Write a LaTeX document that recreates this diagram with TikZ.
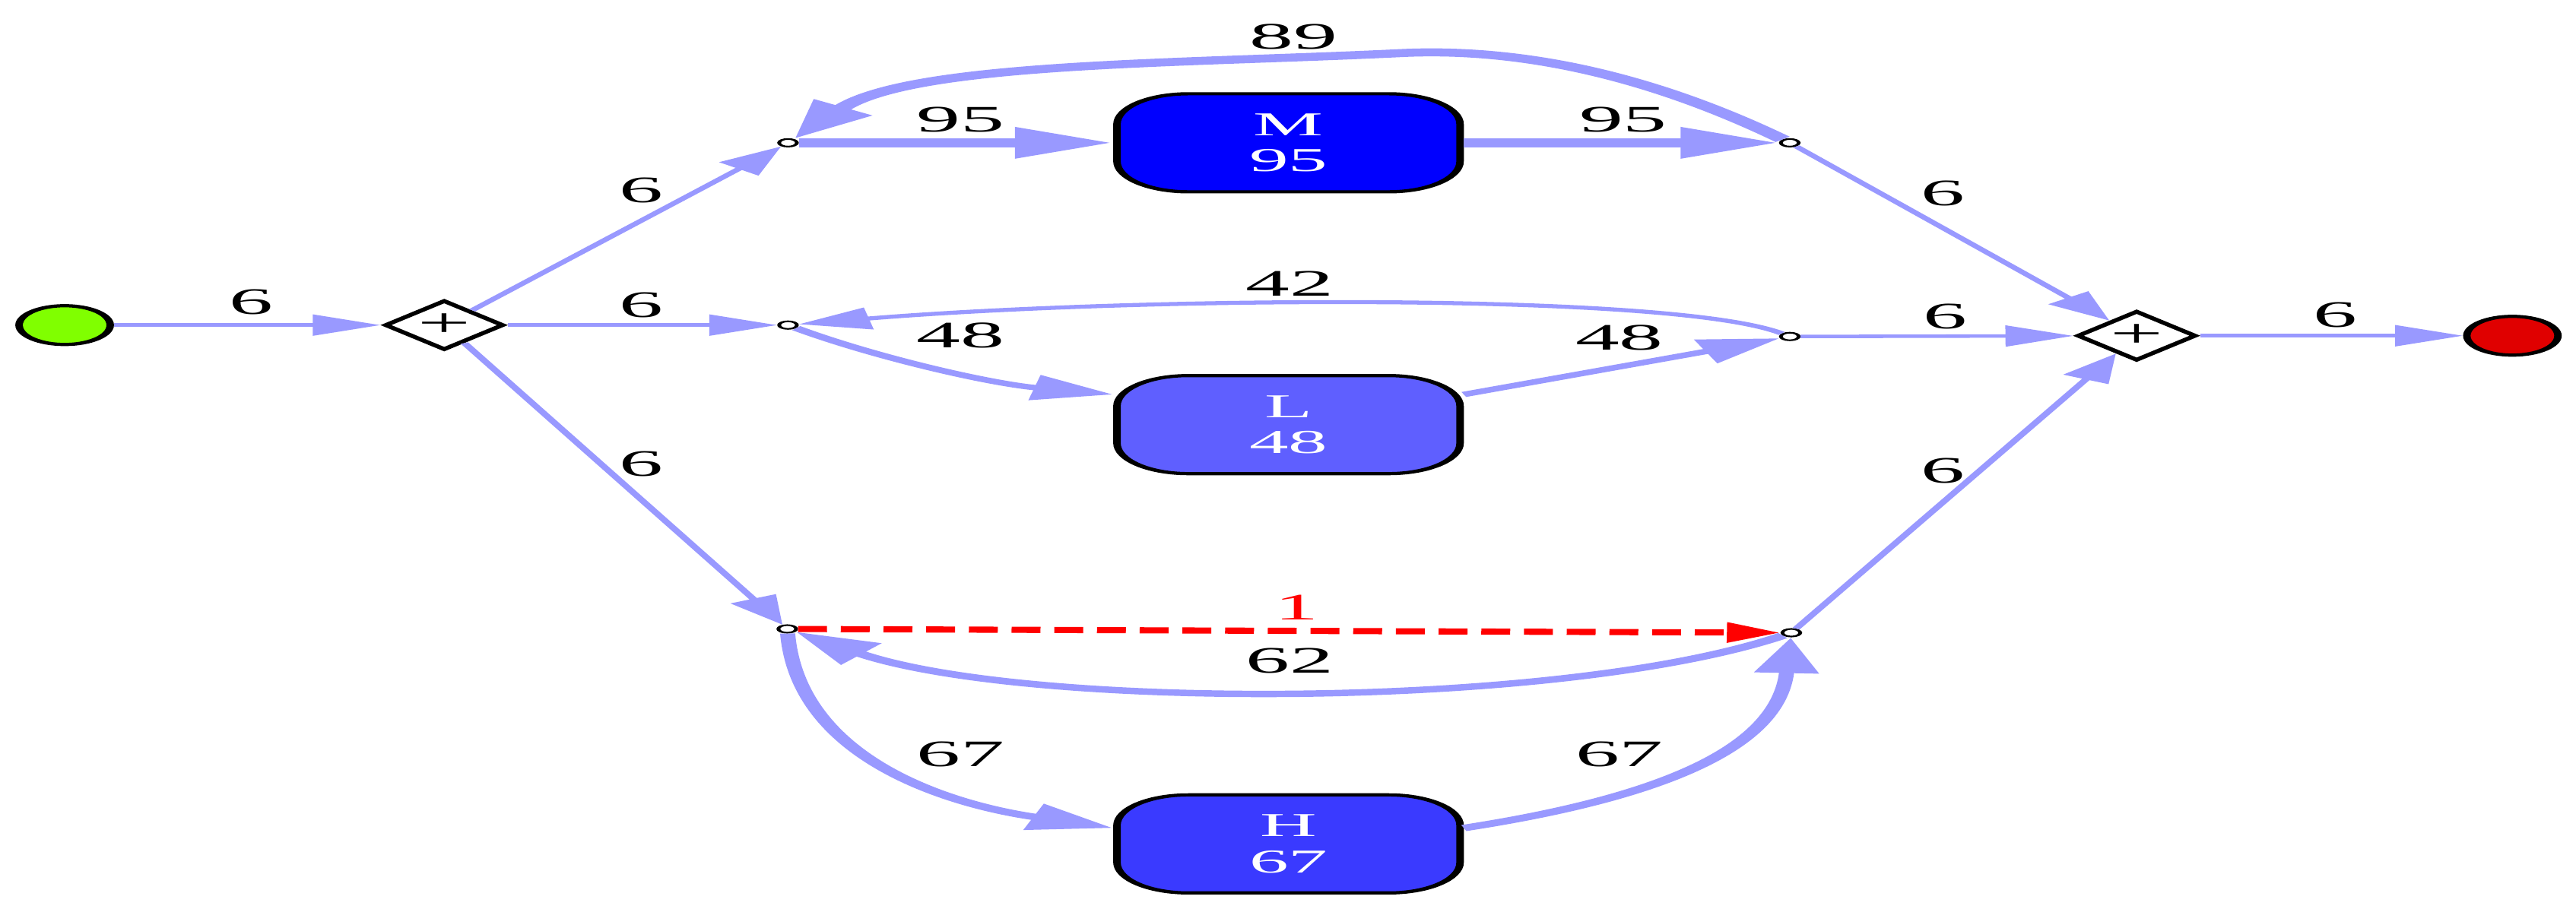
\documentclass[tikz,border=0pt]{standalone}
\usepackage{fontspec}
\setmainfont{Liberation Serif}
\usetikzlibrary{shapes.geometric,arrows.meta}
\definecolor{edgec}{RGB}{153,153,255}
\definecolor{mcol}{RGB}{0,0,255}
\definecolor{lcol}{RGB}{95,95,255}
\definecolor{hcol}{RGB}{58,58,255}
\definecolor{startc}{RGB}{128,255,0}
\definecolor{endc}{RGB}{224,0,0}
\definecolor{redc}{RGB}{255,0,0}
\begin{document}
\begin{tikzpicture}
\useasboundingbox[fill=white] (0,0) rectangle (33.88,-11.96);
\begin{scope}[transform canvas={xscale=2.35}, x=0.0042553cm, y=-0.01cm,
  every node/.style={font=\fontsize{14}{16}\selectfont},
  lbl/.style={inner sep=0pt, text=black},
  ev/.style={circle, draw=black, line width=1.2pt, minimum size=0.51cm, inner sep=0pt},
  gw/.style={diamond, draw=black, line width=1.2pt, fill=white, minimum width=0.67cm, minimum height=0.65cm, inner sep=0pt, font=\fontsize{15}{15}\selectfont},
  tinydot/.style={circle, draw=black, fill=white, line width=0.6pt, minimum size=0.1cm, inner sep=0pt},
  act/.style={rectangle, rounded corners=0.4cm, draw=black, line width=1.2pt, minimum width=1.92cm, minimum height=1.29cm, text=white, align=center, font=\fontsize{12.5}{13.5}\selectfont},
  edg/.style={draw=edgec, line width=1.3pt, -{Triangle[length=0.38cm,width=0.27cm]}},
  eA/.style={draw=edgec, line width=1.5pt, -{Triangle[length=0.4cm,width=0.28cm]}},
  eB/.style={draw=edgec, line width=2pt, -{Triangle[length=0.45cm,width=0.32cm]}},
  eC/.style={draw=edgec, line width=2.4pt, -{Triangle[length=0.47cm,width=0.34cm]}},
  eD/.style={draw=edgec, line width=3pt, -{Triangle[length=0.5cm,width=0.36cm]}},
  eE/.style={draw=edgec, line width=3.4pt, -{Triangle[length=0.55cm,width=0.38cm]}},
  eR/.style={draw=redc, line width=2.3pt, dash pattern=on 4.6pt off 2.2pt, -{Triangle[length=0.3cm,width=0.25cm]}}
]
% nodes
\node[ev, fill=startc] (st) at (85,428) {};
\node[gw] (g1) at (584,428) {+};
\node[tinydot] (ms) at (1036,188) {};
\node[tinydot] (mj) at (2353,188) {};
\node[tinydot] (ls) at (1036,428) {};
\node[tinydot] (lj) at (2353,443) {};
\node[tinydot] (hs) at (1035,828) {};
\node[tinydot] (hj) at (2355,833) {};
\node[act, fill=mcol] (M) at (1694,188) {M\\95};
\node[act, fill=lcol] (L) at (1694,559) {L\\48};
\node[act, fill=hcol] (H) at (1694,1111) {H\\67};
\node[gw] (g2) at (2809,442) {+};
\node[ev, fill=endc] (fin) at (3303,442) {};
% edges
\draw[edg] (st) -- (g1);
\draw[edg] (g1) -- (ms);
\draw[edg] (g1) -- (ls);
\draw[edg] (g1) -- (hs);
\draw[eE] (ms) -- (M);
\draw[eE] (M) -- (mj);
\draw[eD] (mj) .. controls (2170,100) and (2000,62) .. (1840,70) .. controls (1550,84) and (1200,82) .. (ms);
\draw[eA] (lj) .. controls (2200,385) and (1500,390) .. (ls);
\draw[eB] (ls) .. controls (1150,470) and (1300,505) .. (L.158);
\draw[eB] (L.22) -- (lj);
\draw[eR] (hs) -- (hj);
\draw[eC] (hj) .. controls (2050,935) and (1350,935) .. (hs);
\draw[eC] (hs) .. controls (1050,1000) and (1250,1060) .. (H.168);
\draw[eC] (H.12) .. controls (2250,1040) and (2340,960) .. (hj);
\draw[edg] (mj) -- (g2);
\draw[edg] (lj) -- (g2);
\draw[edg] (hj) -- (g2);
\draw[edg] (g2) -- (fin);
% labels
\node[lbl] (t1) at (330,398) {6};
\node[lbl] (t2) at (843,251) {6};
\node[lbl] (t3) at (843,402) {6};
\node[lbl] (t4) at (843,611) {6};
\node[lbl] (t5) at (1263,158) {95};
\node[lbl] (t6) at (2134,158) {95};
\node[lbl] (t7) at (1701,48) {89};
\node[lbl] (t8) at (1696,373) {42};
\node[lbl] (t9) at (1263,442) {48};
\node[lbl] (t10) at (2129,445) {48};
\node[lbl, text=redc] (t11) at (1705,800) {1};
\node[lbl] (t12) at (1696,870) {62};
\node[lbl] (t13) at (1263,993) {67};
\node[lbl] (t14) at (2129,993) {67};
\node[lbl] (t15) at (2554,255) {6};
\node[lbl] (t16) at (2557,417) {6};
\node[lbl] (t17) at (2554,620) {6};
\node[lbl] (t18) at (3070,415) {6};
\end{scope}
\end{tikzpicture}
\end{document}
